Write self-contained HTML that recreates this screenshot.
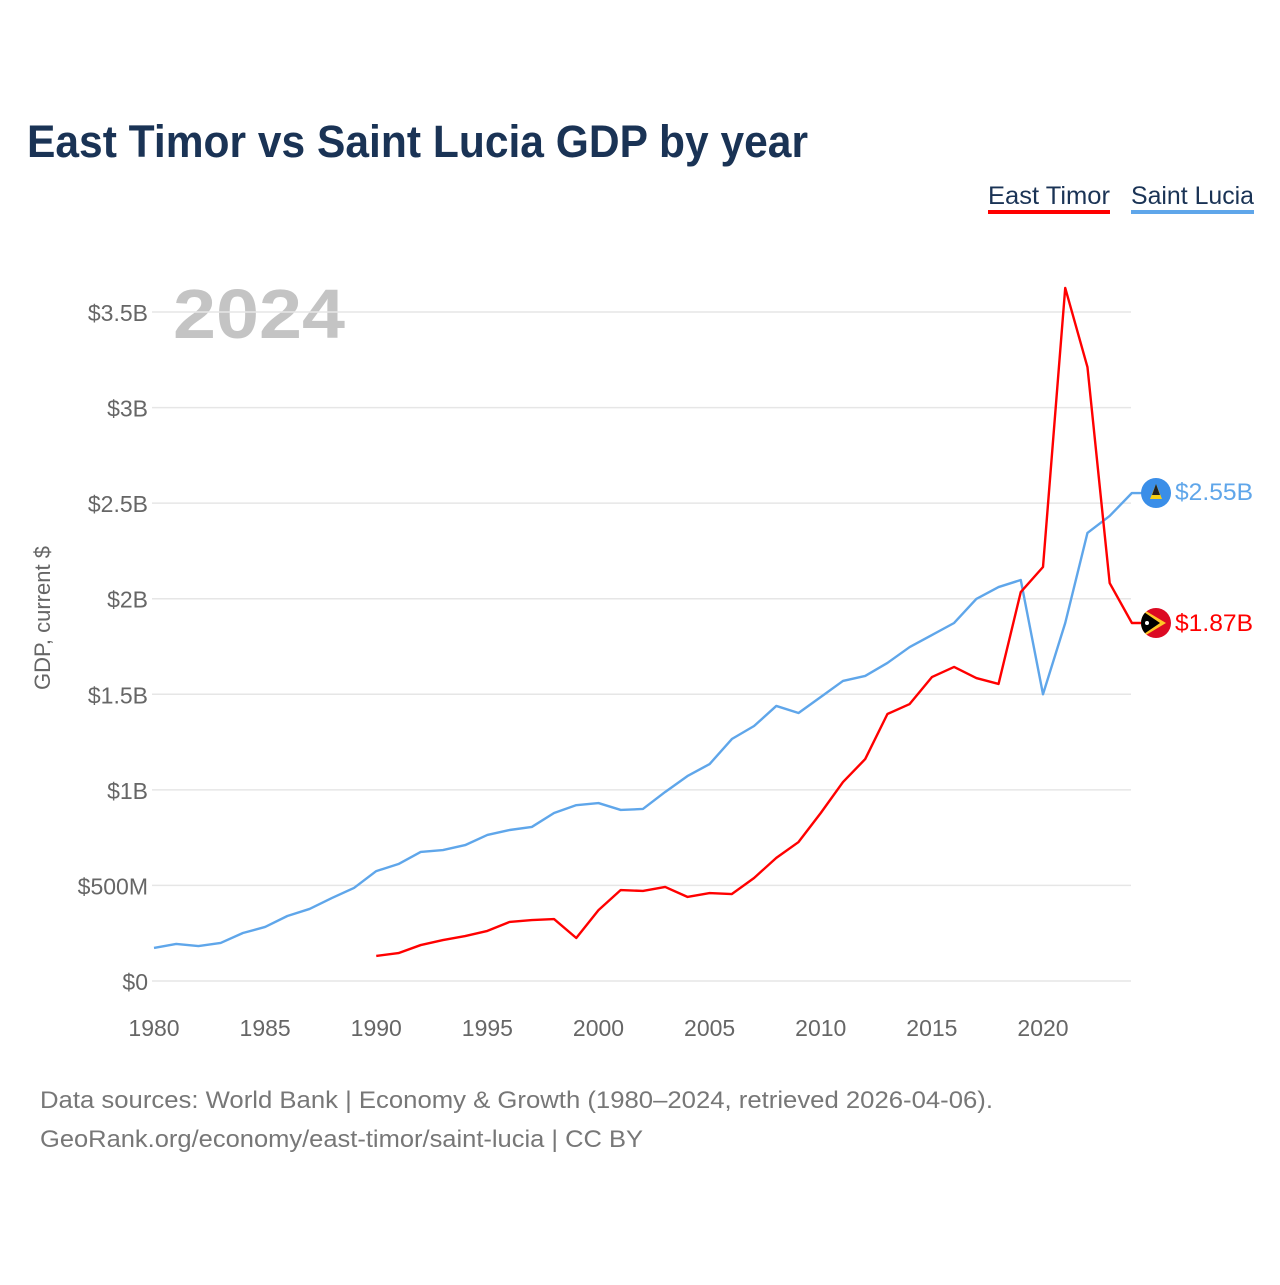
<!DOCTYPE html>
<html><head><meta charset="utf-8"><style>
html,body{margin:0;padding:0;background:#fff;}
body{width:1280px;height:1280px;overflow:hidden;font-family:"Liberation Sans",sans-serif;}
</style></head><body>
<svg id="chart" width="1280" height="1280" xmlns="http://www.w3.org/2000/svg" font-family="Liberation Sans, sans-serif">
<defs><clipPath id="etclip"><circle cx="1156" cy="623" r="15"/></clipPath></defs>
<text x="27" y="157" font-size="45" font-weight="bold" fill="#1a3355" textLength="781" lengthAdjust="spacingAndGlyphs">East Timor vs Saint Lucia GDP by year</text>
<g>
<g><text x="988" y="204" font-size="25" fill="#1a3355" textLength="122" lengthAdjust="spacingAndGlyphs">East Timor</text><rect x="988" y="210" width="122" height="4" fill="#ff0000"/></g>
<g><text x="1131" y="204" font-size="25" fill="#1a3355" textLength="123" lengthAdjust="spacingAndGlyphs">Saint Lucia</text><rect x="1131" y="210" width="123" height="4" fill="#5fa6ea"/></g>
</g>
<text x="173" y="338" font-size="70" font-weight="bold" fill="#c4c4c4" textLength="172" lengthAdjust="spacingAndGlyphs">2024</text>
<text transform="translate(50,618) rotate(-90)" text-anchor="middle" font-size="22" fill="#666">GDP, current $</text>
<g id="grid"></g><g id="yticks"></g><g id="xticks"></g><g id="lines"></g>
<g>
<circle cx="1156" cy="493" r="15" fill="#3a8ee8"/><polygon points="1156,484 1162,499 1150,499" fill="#f7d116"/><polygon points="1156,484 1160,495 1152,495" fill="#222"/>
<text x="1175" y="500" font-size="24" fill="#5fa6ea" textLength="78" lengthAdjust="spacingAndGlyphs">$2.55B</text></g>
<g>
<g clip-path="url(#etclip)"><rect x="1141" y="608" width="30" height="30" fill="#dc0a23"/><polygon points="1141,608 1166,623 1141,638" fill="#ffc726"/><polygon points="1141,610 1160,623 1141,636" fill="#000"/></g><circle cx="1147" cy="623" r="2" fill="#fff"/>
<text x="1175" y="631" font-size="24" fill="#ff0000" textLength="78" lengthAdjust="spacingAndGlyphs">$1.87B</text></g>
<text x="40" y="1108" font-size="24" fill="#777" textLength="953" lengthAdjust="spacingAndGlyphs">Data sources: World Bank | Economy &amp; Growth (1980–2024, retrieved 2026-04-06).</text>
<text x="40" y="1147" font-size="24" fill="#777" textLength="603" lengthAdjust="spacingAndGlyphs">GeoRank.org/economy/east-timor/saint-lucia | CC BY</text>
</svg>
<script>
const years = [];
for (let y = 1980; y <= 2024; y++) years.push(y);
const saintLucia = [0.173,0.194,0.183,0.199,0.251,0.283,0.34,0.377,0.434,0.487,0.575,0.612,0.675,0.685,0.711,0.764,0.79,0.806,0.879,0.92,0.931,0.895,0.9,0.989,1.072,1.135,1.266,1.334,1.439,1.402,1.486,1.57,1.596,1.664,1.747,1.81,1.873,1.999,2.061,2.098,1.50,1.873,2.344,2.433,2.553];
const eastTimorYears = [];
for (let y = 1990; y <= 2024; y++) eastTimorYears.push(y);
const eastTimor = [0.131,0.146,0.188,0.214,0.235,0.262,0.309,0.319,0.324,0.225,0.371,0.476,0.471,0.492,0.44,0.46,0.455,0.539,0.644,0.727,0.879,1.041,1.161,1.397,1.449,1.59,1.643,1.585,1.554,2.035,2.166,3.626,3.212,2.082,1.873];
const yTickValues = [0,0.5,1,1.5,2,2.5,3,3.5];
const yTickLabels = ["$0","$500M","$1B","$1.5B","$2B","$2.5B","$3B","$3.5B"];
const xTickValues = [1980,1985,1990,1995,2000,2005,2010,2015,2020];

const NS = "http://www.w3.org/2000/svg";
const xs = y => 154 + (y - 1980) * 22.225;
const ys = v => 981 - v * 191.14;
function mk(tag, attrs, parent) {
  const e = document.createElementNS(NS, tag);
  for (const k in attrs) e.setAttribute(k, attrs[k]);
  document.getElementById(parent).appendChild(e);
  return e;
}
yTickValues.forEach((v, i) => {
  const g = mk("line", {x1: 152, x2: 1131, y1: ys(v), y2: ys(v), stroke: "#e6e6e6", "stroke-width": 1.5}, "grid");
  
  
  const t = mk("text", {x: 148, y: ys(v) + 9, "text-anchor": "end", "font-size": 23, fill: "#666"}, "yticks");
  t.textContent = yTickLabels[i];
  
  
});
xTickValues.forEach(v => {
  const t = mk("text", {x: xs(v), y: 1036, "text-anchor": "middle", "font-size": 23, fill: "#666"}, "xticks");
  t.textContent = v;
  
  
});
const slPts = years.map((y, i) => xs(y) + "," + ys(saintLucia[i])).join(" ") + " " + (xs(2024) + 10) + "," + ys(saintLucia[44]);
const sl = mk("polyline", {points: slPts, fill: "none", stroke: "#5fa6ea", "stroke-width": 2.4, "stroke-linejoin": "round"}, "lines");


const etPts = eastTimorYears.map((y, i) => xs(y) + "," + ys(eastTimor[i])).join(" ") + " " + (xs(2024) + 10) + "," + ys(eastTimor[34]);
const et = mk("polyline", {points: etPts, fill: "none", stroke: "#ff0000", "stroke-width": 2.4, "stroke-linejoin": "round"}, "lines");


</script>
</body></html>
